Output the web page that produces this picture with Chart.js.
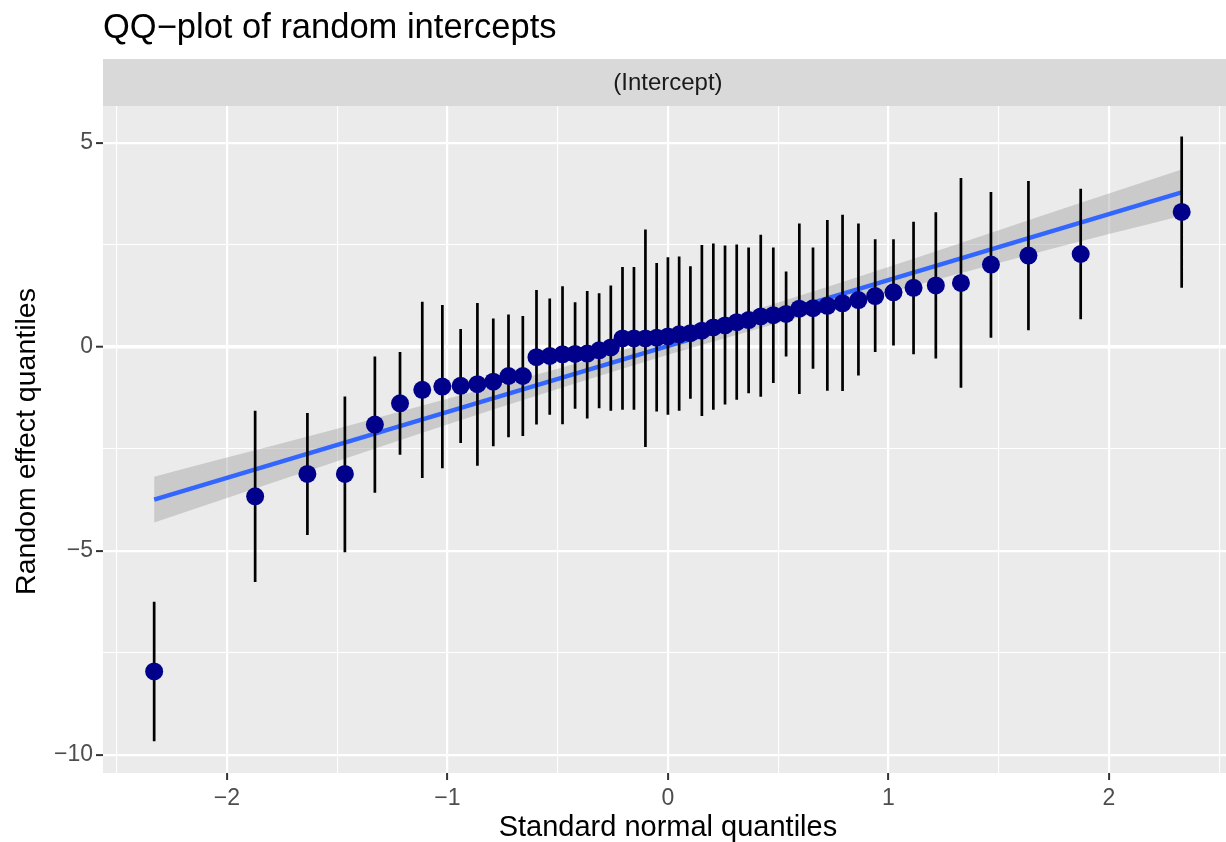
<!DOCTYPE html>
<html>
<head>
<meta charset="utf-8">
<title>QQ-plot of random intercepts</title>
<script src="https://cdn.jsdelivr.net/npm/chart.js@4.4.1/dist/chart.umd.min.js"></script>
<style>
  html, body { margin: 0; padding: 0; background: #fff; overflow: hidden; }
  canvas { display: block; }
</style>
</head>
<body>
<canvas id="qq" width="1226" height="842"></canvas>
<script>
// standard normal quantiles for the 49 groups (x)
const normQ = [-2.330, -1.872, -1.635, -1.465, -1.329, -1.215, -1.114, -1.023, -0.940, -0.864,
               -0.792, -0.723, -0.658, -0.596, -0.536, -0.478, -0.421, -0.366, -0.312, -0.259,
               -0.206, -0.154, -0.102, -0.051, 0, 0.051, 0.102, 0.154, 0.206, 0.259,
               0.312, 0.366, 0.421, 0.478, 0.536, 0.596, 0.658, 0.723, 0.792, 0.864,
               0.940, 1.023, 1.114, 1.215, 1.329, 1.465, 1.635, 1.872, 2.330];

// random effect estimates, sorted, with their intervals
const reEst = [-7.95, -3.66, -3.11, -3.11, -1.90, -1.38, -1.05, -0.97, -0.95, -0.91,
               -0.85, -0.71, -0.71, -0.25, -0.22, -0.18, -0.17, -0.16, -0.08, -0.01,
               0.21, 0.21, 0.21, 0.23, 0.26, 0.31, 0.34, 0.40, 0.48, 0.53,
               0.61, 0.66, 0.75, 0.78, 0.81, 0.94, 0.95, 1.01, 1.07, 1.15,
               1.25, 1.34, 1.45, 1.51, 1.57, 2.02, 2.24, 2.28, 3.31];
const reLow = [-9.66, -5.76, -4.61, -5.03, -3.57, -2.64, -3.21, -2.97, -2.35, -2.91,
               -2.43, -2.21, -2.18, -1.90, -1.66, -1.89, -1.51, -1.75, -1.50, -1.56,
               -1.54, -1.54, -2.45, -1.58, -1.66, -1.56, -1.27, -1.69, -1.54, -1.41,
               -1.29, -1.13, -1.22, -0.88, -0.23, -1.15, -0.53, -1.07, -1.08, -0.70,
               -0.12, 0.04, -0.18, -0.28, -1.00, 0.23, 0.41, 0.68, 1.45];
const reHigh = [-6.24, -1.56, -1.62, -1.21, -0.23, -0.12, 1.11, 1.03, 0.44, 1.08,
                0.70, 0.80, 0.76, 1.40, 1.19, 1.49, 1.10, 1.37, 1.32, 1.51,
                1.96, 1.96, 2.88, 2.06, 2.20, 2.22, 1.98, 2.50, 2.54, 2.49,
                2.51, 2.44, 2.75, 2.44, 1.85, 3.03, 2.44, 3.11, 3.24, 3.03,
                2.64, 2.64, 3.07, 3.30, 4.14, 3.80, 4.07, 3.88, 5.16];

// lm fit and its confidence band
const fitX = [-2.330, 2.330];
const fitY = [-3.74, 3.79];
const bandX = [-2.330, -2, -1.5, -1, -0.5, 0, 0.5, 1, 1.5, 2, 2.330];
const bandLow = [-4.30, -3.70, -2.80, -1.90, -1.03, -0.19, 0.59, 1.33, 2.06, 2.77, 3.22];
const bandHigh = [-3.18, -2.71, -2.00, -1.27, -0.53, 0.25, 1.09, 1.96, 2.86, 3.76, 4.35];

// axis breaks
const xMajor = [-2, -1, 0, 1, 2];
const xMinor = [-2.5, -1.5, -0.5, 0.5, 1.5, 2.5];
const yMajor = [-10, -5, 0, 5];
const yMinor = [-7.5, -2.5, 2.5];

const FONT = "'Liberation Sans', Arial, Helvetica, sans-serif";
const minus = v => String(v).replace('-', '\u2212');

const pointData = normQ.map((q, i) => ({ x: q, y: reEst[i] }));
const barData = [];
normQ.forEach((q, i) => {
    barData.push({ x: q, y: reLow[i] }, { x: q, y: reHigh[i] }, { x: q, y: null });
});
const fitData = fitX.map((x, i) => ({ x: x, y: fitY[i] }));
const bandHiData = bandX.map((x, i) => ({ x: x, y: bandHigh[i] }));
const bandLoData = bandX.map((x, i) => ({ x: x, y: bandLow[i] }));

// ---------------- ggplot-like decorations ----------------
const ggDecor = {
    id: 'ggDecor',
    beforeDraw(chart) {
        const { ctx, chartArea: a } = chart;
        ctx.save();
        ctx.fillStyle = '#ffffff';
        ctx.fillRect(0, 0, chart.width, chart.height);
        ctx.fillStyle = '#EBEBEB';
        ctx.fillRect(a.left, a.top, a.right - a.left, a.bottom - a.top);

        // facet strip
        const stripTop = 59;
        ctx.fillStyle = '#D9D9D9';
        ctx.fillRect(a.left, stripTop, a.right - a.left, a.top - stripTop);
        const cx = chart.scales.x.getPixelForValue(0);
        ctx.fillStyle = '#1A1A1A';
        ctx.font = '24px ' + FONT;
        ctx.textAlign = 'center';
        ctx.textBaseline = 'middle';
        ctx.fillText('(Intercept)', cx, (stripTop + a.top) / 2 + 1);

        // title
        ctx.fillStyle = '#000000';
        ctx.font = '34.5px ' + FONT;
        ctx.textAlign = 'left';
        ctx.textBaseline = 'alphabetic';
        ctx.fillText('QQ\u2212plot of random intercepts', a.left, 38);

        // axis titles
        ctx.font = '29px ' + FONT;
        ctx.textAlign = 'center';
        ctx.fillText('Standard normal quantiles', cx, 836);
        ctx.font = '28.5px ' + FONT;
        ctx.translate(35, (a.top + a.bottom) / 2 + 2);
        ctx.rotate(-Math.PI / 2);
        ctx.fillText('Random effect quantiles', 0, 0);
        ctx.restore();
    }
};

const gridWidth = (majors, zeroW) => c => {
    const v = c.tick ? c.tick.value : null;
    if (v === 0 && zeroW) return zeroW;
    return majors.includes(v) ? 2.2 : 1.1;
};
const tickCol = majors => c => (c.tick && majors.includes(c.tick.value)) ? '#333333' : 'rgba(0,0,0,0)';

new Chart(document.getElementById('qq'), {
    type: 'scatter',
    data: {
        datasets: [
            {
                label: 'estimates',
                data: pointData,
                pointRadius: 9,
                pointHoverRadius: 9,
                backgroundColor: '#00008B',
                borderWidth: 0
            },
            {
                type: 'line',
                label: 'intervals',
                data: barData,
                borderColor: '#000000',
                borderWidth: 2.7,
                borderCapStyle: 'butt',
                pointRadius: 0,
                spanGaps: false,
                fill: false
            },
            {
                type: 'line',
                label: 'fit',
                data: fitData,
                borderColor: '#3366FF',
                borderWidth: 4.2,
                pointRadius: 0,
                fill: false
            },
            {
                type: 'line',
                label: 'band high',
                data: bandHiData,
                borderColor: 'rgba(0,0,0,0)',
                borderWidth: 0,
                pointRadius: 0,
                cubicInterpolationMode: 'monotone',
                backgroundColor: 'rgba(153,153,153,0.4)',
                fill: '+1'
            },
            {
                type: 'line',
                label: 'band low',
                data: bandLoData,
                borderColor: 'rgba(0,0,0,0)',
                borderWidth: 0,
                pointRadius: 0,
                cubicInterpolationMode: 'monotone',
                fill: false
            }
        ]
    },
    options: {
        responsive: false,
        animation: false,
        events: [],
        layout: { autoPadding: false, padding: { top: 106, left: 0, right: 0, bottom: 0 } },
        plugins: {
            legend: { display: false },
            tooltip: { enabled: false },
            title: { display: false }
        },
        scales: {
            x: {
                type: 'linear',
                min: -2.562,
                max: 2.531,
                afterBuildTicks: s => { s.ticks = xMajor.concat(xMinor).sort((a, b) => a - b).map(v => ({ value: v })); },
                afterFit: s => { s.height = 69; s.paddingLeft = 0; s.paddingRight = 0; },
                border: { display: false },
                grid: {
                    color: '#FFFFFF',
                    lineWidth: gridWidth(xMajor),
                    tickColor: tickCol(xMajor),
                    tickWidth: 2,
                    tickLength: 7
                },
                ticks: {
                    autoSkip: false,
                    maxRotation: 0,
                    padding: 5,
                    color: '#4D4D4D',
                    font: { family: FONT, size: 23 },
                    callback: v => xMajor.includes(v) ? minus(v) : ''
                }
            },
            y: {
                type: 'linear',
                min: -10.44,
                max: 5.907,
                afterBuildTicks: s => { s.ticks = yMajor.concat(yMinor).sort((a, b) => a - b).map(v => ({ value: v })); },
                afterFit: s => { s.width = 103; s.paddingTop = 0; s.paddingBottom = 0; },
                border: { display: false },
                grid: {
                    color: '#FFFFFF',
                    lineWidth: gridWidth(yMajor, 3.4),
                    tickColor: tickCol(yMajor),
                    tickWidth: 2,
                    tickLength: 7
                },
                ticks: {
                    autoSkip: false,
                    padding: 3,
                    color: '#4D4D4D',
                    font: { family: FONT, size: 23 },
                    callback: v => yMajor.includes(v) ? minus(v) : ''
                }
            }
        }
    },
    plugins: [ggDecor]
});
</script>
</body>
</html>
